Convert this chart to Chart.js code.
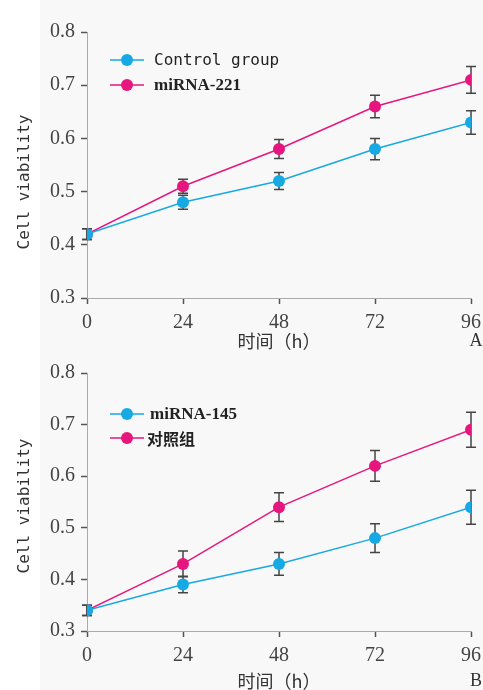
<!DOCTYPE html>
<html><head><meta charset="utf-8">
<script src="https://cdn.jsdelivr.net/npm/chart.js@4/dist/chart.umd.min.js"></script>
<style>
html,body{margin:0;padding:0;background:#fff;}
#wrap{position:relative;width:483px;height:690px;overflow:hidden;background:linear-gradient(to right,#ffffff 0,#ffffff 40px,#f8f8f8 40px);}
.box{position:absolute;left:0;width:483px;height:350px;}
</style></head>
<body><div id="wrap">
<div class="box" style="top:0"><canvas id="c1" width="483" height="350"></canvas></div>
<div class="box" style="top:340px"><canvas id="c2" width="483" height="350"></canvas></div>
</div>
<script>
const hours = [0, 24, 48, 72, 96];
const yTicks = [0.3, 0.4, 0.5, 0.6, 0.7, 0.8];
const xTitle = '时间（h）';
const yTitle = 'Cell viability';

// Panel A
const aLabel = 'A';
const aSeries1Name = 'Control group';
const aSeries1 = [0.42, 0.48, 0.52, 0.58, 0.63];
const aSeries1Err = [0.01, 0.013, 0.016, 0.02, 0.022];
const aSeries2Name = 'miRNA-221';
const aSeries2 = [0.42, 0.51, 0.58, 0.66, 0.71];
const aSeries2Err = [0.01, 0.013, 0.018, 0.021, 0.025];

// Panel B
const bLabel = 'B';
const bSeries1Name = 'miRNA-145';
const bSeries1 = [0.34, 0.39, 0.43, 0.48, 0.54];
const bSeries1Err = [0.01, 0.016, 0.022, 0.028, 0.033];
const bSeries2Name = '对照组';
const bSeries2 = [0.34, 0.43, 0.54, 0.62, 0.69];
const bSeries2Err = [0.01, 0.025, 0.028, 0.03, 0.034];

const BLUE = '#17a9e4';
const PINK = '#e5177e';

const errorBars = {
  id: 'errorBars',
  beforeDatasetsDraw(chart) {
    const ctx = chart.ctx, xs = chart.scales.x, ys = chart.scales.y;
    ctx.save();
    ctx.strokeStyle = '#444';
    ctx.lineWidth = 1.5;
    chart.data.datasets.forEach(ds => {
      ds.data.forEach((p, i) => {
        const e = ds.err[i];
        const x = xs.getPixelForValue(p.x);
        const y1 = ys.getPixelForValue(p.y + e), y2 = ys.getPixelForValue(p.y - e);
        ctx.beginPath();
        ctx.moveTo(x, y1); ctx.lineTo(x, y2);
        ctx.moveTo(x - 5, y1); ctx.lineTo(x + 5, y1);
        ctx.moveTo(x - 5, y2); ctx.lineTo(x + 5, y2);
        ctx.stroke();
      });
    });
    ctx.restore();
  }
};

const decor = {
  id: 'decor',
  afterDraw(chart) {
    const o = chart.options.plugins.decor;
    const ctx = chart.ctx, ca = chart.chartArea;
    ctx.save();
    ctx.translate(ca.left - 62, (ca.top + ca.bottom) / 2 + o.yTitleShift);
    ctx.rotate(-Math.PI / 2);
    ctx.font = '16px "DejaVu Sans Mono"';
    ctx.fillStyle = '#333';
    ctx.textAlign = 'center';
    ctx.textBaseline = 'middle';
    ctx.fillText(yTitle, 0, 0);
    ctx.restore();
    ctx.save();
    ctx.font = '18px "Liberation Serif"';
    ctx.fillStyle = '#333';
    ctx.textAlign = 'center';
    ctx.textBaseline = 'middle';
    ctx.fillText(o.letter, ca.right + 5, chart.height - 9);
    ctx.restore();
    ctx.save();
    const lx = ca.left + 23, ly = ca.top + o.legendTop;
    chart.data.datasets.forEach((ds, i) => {
      const y = ly + i * o.legendGap;
      ctx.strokeStyle = ds.borderColor; ctx.lineWidth = 1.5;
      ctx.beginPath(); ctx.moveTo(lx, y); ctx.lineTo(lx + 34, y); ctx.stroke();
      ctx.fillStyle = ds.borderColor;
      ctx.beginPath(); ctx.arc(lx + 17, y, 6, 0, Math.PI * 2); ctx.fill();
      ctx.fillStyle = '#222';
      ctx.textBaseline = 'middle';
      ctx.textAlign = 'left';
      ctx.font = ds.legendFont;
      ctx.fillText(ds.label, lx + o.textOffset[i], y + 1);
    });
    ctx.restore();
  }
};

function makeChart(id, s1, s1e, n1, f1, s2, s2e, n2, f2, letter, topPad, bottomY, yShift, legendTop, legendGap, textOffset) {
  const mk = (vals) => hours.map((h, i) => ({x: h, y: vals[i]}));
  return new Chart(document.getElementById(id), {
    type: 'line',
    data: {
      datasets: [
        {label: n1, data: mk(s1), err: s1e, borderColor: BLUE, backgroundColor: BLUE, pointBackgroundColor: BLUE,
         pointBorderWidth: 0, pointRadius: 6, borderWidth: 1.5, legendFont: f1},
        {label: n2, data: mk(s2), err: s2e, borderColor: PINK, backgroundColor: PINK, pointBackgroundColor: PINK,
         pointBorderWidth: 0, pointRadius: 6, borderWidth: 1.5, legendFont: f2}
      ]
    },
    plugins: [errorBars, decor],
    options: {
      responsive: false, animation: false,
      layout: {padding: {left: 0, right: 12, top: topPad, bottom: 0}},
      plugins: {
        legend: {display: false}, tooltip: {enabled: false},
        decor: {letter: letter, yTitleShift: yShift, legendTop: legendTop, legendGap: legendGap, textOffset: textOffset}
      },
      scales: {
        x: {
          type: 'linear', min: 0, max: 96,
          afterFit: s => { s.height = 350 - bottomY; s.paddingRight = 0; s.paddingLeft = 0; },
          afterBuildTicks: s => { s.ticks = hours.map(v => ({value: v})); },
          border: {color: '#aaa', width: 1},
          grid: {display: true, drawOnChartArea: false, drawTicks: true, tickLength: 6, tickColor: '#555', tickWidth: 1.5},
          ticks: {color: '#444', font: {family: 'Liberation Serif', size: 20}, padding: 7, maxRotation: 0, autoSkip: false},
          title: {display: true, text: xTitle, color: '#333', font: {family: 'Noto Sans CJK SC', size: 18, lineHeight: 1}, padding: {top: 0, bottom: 0}}
        },
        y: {
          min: 0.3, max: 0.8,
          afterFit: s => { s.width = 87; s.paddingTop = 0; s.paddingBottom = 0; },
          afterBuildTicks: s => { s.ticks = yTicks.map(v => ({value: v})); },
          border: {color: '#aaa', width: 1},
          grid: {display: true, drawOnChartArea: false, drawTicks: true, tickLength: 6, tickColor: '#555', tickWidth: 1.5},
          ticks: {color: '#444', font: {family: 'Liberation Serif', size: 20}, padding: 6,
                  callback: v => v.toFixed(1)}
        }
      }
    }
  });
}

makeChart('c1', aSeries1, aSeries1Err, aSeries1Name, '16px "DejaVu Sans Mono"',
          aSeries2, aSeries2Err, aSeries2Name, 'bold 17px "Liberation Serif"',
          aLabel, 32, 298, 17, 28, 25, [44, 44]);
makeChart('c2', bSeries1, bSeries1Err, bSeries1Name, 'bold 17px "Liberation Serif"',
          bSeries2, bSeries2Err, bSeries2Name, 'bold 16px "Noto Sans CJK SC"',
          bLabel, 33, 291, 4, 41, 24, [40, 37]);
</script>
</body></html>
